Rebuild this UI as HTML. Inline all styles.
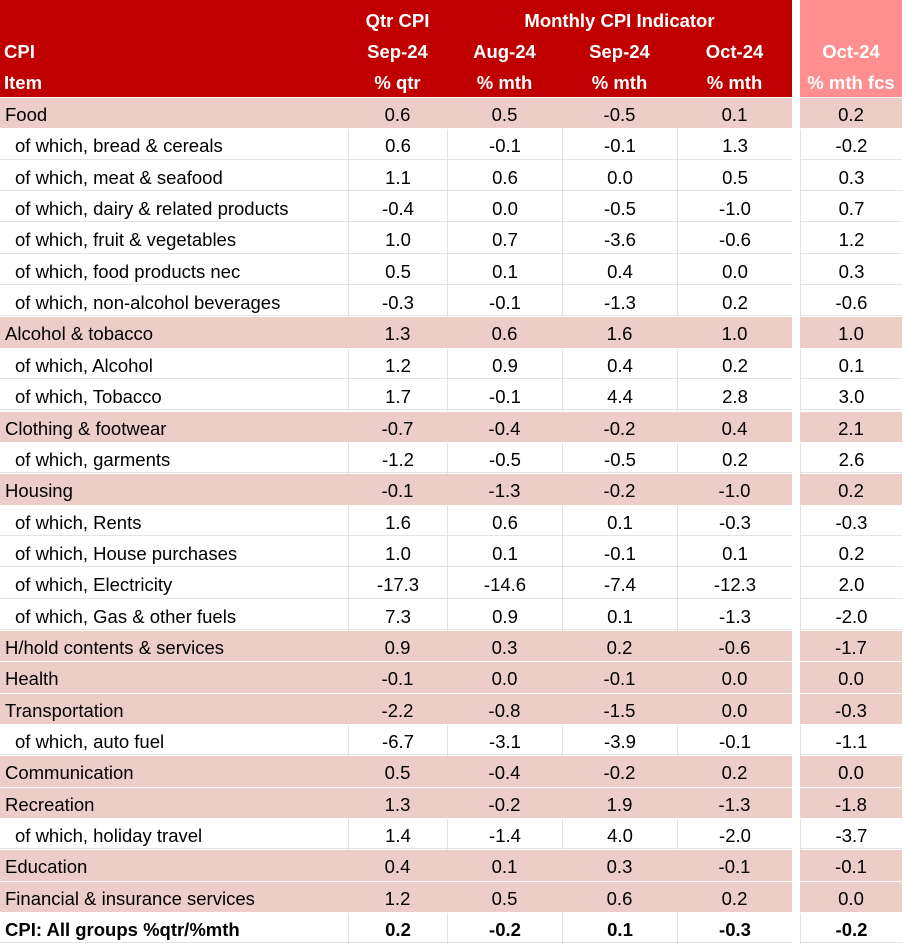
<!DOCTYPE html>
<html><head><meta charset="utf-8"><style>
body{margin:0;width:907px;height:945px;background:#fff;font-family:"Liberation Sans",Arial,sans-serif;overflow:hidden;position:relative}
.c{position:absolute;box-sizing:border-box;font-size:18.5px;line-height:33px;white-space:nowrap}
.h{color:#fff;font-weight:bold;font-size:18.5px;line-height:31px}
</style></head><body>
<div id="t"></div>
<script>
const items=["Food","of which, bread & cereals","of which, meat & seafood","of which, dairy & related products","of which, fruit & vegetables","of which, food products nec","of which, non-alcohol beverages","Alcohol & tobacco","of which, Alcohol","of which, Tobacco","Clothing & footwear","of which, garments","Housing","of which, Rents","of which, House purchases","of which, Electricity","of which, Gas & other fuels","H/hold contents & services","Health","Transportation","of which, auto fuel","Communication","Recreation","of which, holiday travel","Education","Financial & insurance services","CPI: All groups %qtr/%mth"];
const qtr=[0.6,0.6,1.1,-0.4,1.0,0.5,-0.3,1.3,1.2,1.7,-0.7,-1.2,-0.1,1.6,1.0,-17.3,7.3,0.9,-0.1,-2.2,-6.7,0.5,1.3,1.4,0.4,1.2,0.2];
const aug=[0.5,-0.1,0.6,0.0,0.7,0.1,-0.1,0.6,0.9,-0.1,-0.4,-0.5,-1.3,0.6,0.1,-14.6,0.9,0.3,0.0,-0.8,-3.1,-0.4,-0.2,-1.4,0.1,0.5,-0.2];
const sep=[-0.5,-0.1,0.0,-0.5,-3.6,0.4,-1.3,1.6,0.4,4.4,-0.2,-0.5,-0.2,0.1,-0.1,-7.4,0.1,0.2,-0.1,-1.5,-3.9,-0.2,1.9,4.0,0.3,0.6,0.1];
const oct=[0.1,1.3,0.5,-1.0,-0.6,0.0,0.2,1.0,0.2,2.8,0.4,0.2,-1.0,-0.3,0.1,-12.3,-1.3,-0.6,0.0,0.0,-0.1,0.2,-1.3,-2.0,-0.1,0.2,-0.3];
const fcs=[0.2,-0.2,0.3,0.7,1.2,0.3,-0.6,1.0,0.1,3.0,2.1,2.6,0.2,-0.3,0.2,2.0,-2.0,-1.7,0.0,-0.3,-1.1,0.0,-1.8,-3.7,-0.1,0.0,-0.2];
const cols=[[0,348],[348,447],[447,562],[562,677],[677,792],[800,902]];
const t=document.getElementById('t');
function cell(x,y,w,h,txt,cls,bg,align,name){
 const d=document.createElement('div');
 d.className='c '+(cls||'');
 d.style.left=x+'px';d.style.top=y+'px';d.style.width=w+'px';d.style.height=h+'px';
 if(bg)d.style.background=bg;
 d.style.textAlign=align||'center';
 d.textContent=txt;
 
 
 t.appendChild(d);return d;
}
cell(0,0,792,97,'','', '#C00000','left','header-band');
cell(800,0,102,97,'','', '#FF8F8F','left','forecast-header-band');
const hdr=[["","CPI","Item"],["Qtr CPI","Sep-24","% qtr"],["","Aug-24","% mth"],["","Sep-24","% mth"],["","Oct-24","% mth"],["","Oct-24","% mth fcs"]];
hdr.forEach((h,ci)=>{h.forEach((s,ri)=>{if(!s)return;const c=cols[ci];
 cell(c[0]+(ci==0?4:0),5+ri*31,c[1]-c[0],31,s,'h',null,ci==0?'left':'center','header-'+ci+'-'+ri);});});
cell(447,5,345,31,'Monthly CPI Indicator','h',null,'center','monthly-indicator-header');
const rowH=31.35,top0=98;
items.forEach((it,i)=>{
 const y=top0+i*rowH;const sub=it.startsWith('of which');const last=i==items.length-1;
 const bg=(!sub&&!last)?'#EDCDC8':null;
 const vals=[qtr[i],aug[i],sep[i],oct[i],fcs[i]];
 const r=cell(0,y,792,rowH-1,'','',bg,'left','row-bg-'+i);
 if(!bg){r.style.borderBottom='1px solid #e4e4e4';}
 const f=cell(800,y,102,rowH-1,'','',bg,'left','row-fcs-bg-'+i);
 if(!bg){f.style.borderBottom='1px solid #e4e4e4';}
 const lab=cell(sub?15:5,y,340,rowH,it,'',null,'left','item-label-'+i);
 if(last)lab.style.fontWeight='bold';
 vals.forEach((v,k)=>{const c=cols[k+1];
  const d=cell(c[0],y,c[1]-c[0],rowH,v.toFixed(1),'',null,'center','value-'+i+'-'+k);
  if(!bg){d.style.borderLeft='1px solid #e2e2e2';}
  if(last)d.style.fontWeight='bold';});
});
</script>
</body></html>
